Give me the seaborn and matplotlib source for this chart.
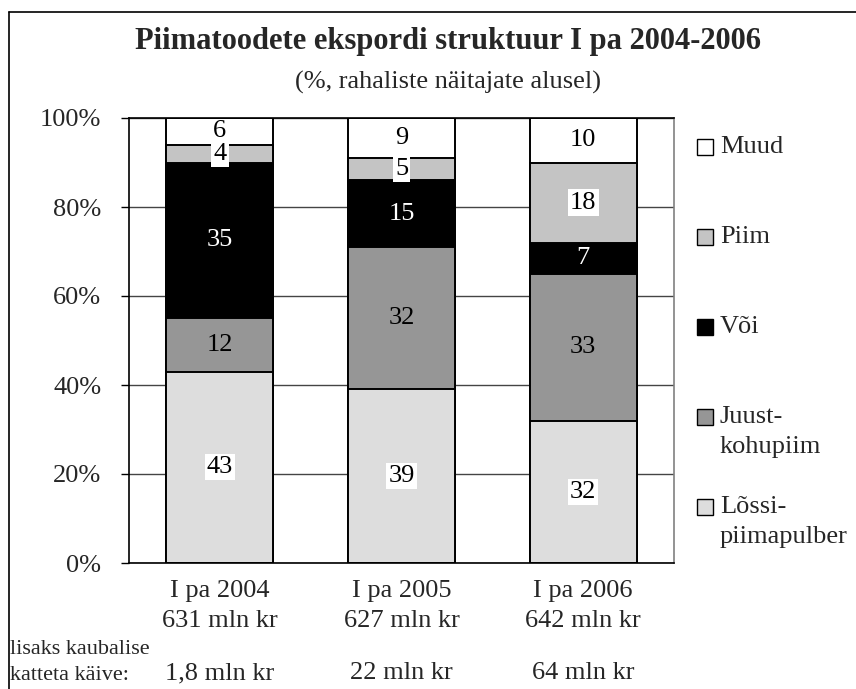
import numpy as np
import seaborn as sns
import matplotlib.pyplot as plt
from matplotlib.patches import Rectangle
from matplotlib.lines import Line2D
from matplotlib.transforms import blended_transform_factory

# data
periods = ['I pa 2004', 'I pa 2005', 'I pa 2006']
totals = ['631 mln kr', '627 mln kr', '642 mln kr']
extra = ['1,8 mln kr', '22 mln kr', '64 mln kr']

groups = ['Lõssi-\npiimapulber', 'Juust-\nkohupiim', 'Või', 'Piim', 'Muud']
lossi = [43, 39, 32]
juust = [12, 32, 33]
voi = [35, 15, 7]
piim = [4, 5, 18]
muud = [6, 9, 10]

values = [lossi, juust, voi, piim, muud]
colors = ['#dddddd', '#969696', '#000000', '#c4c4c4', '#ffffff']
text_colors = ['black', 'black', 'white', 'black', 'black']
boxed = [True, False, False, True, False]

sns.set_style('white')
plt.rcParams['font.family'] = ['Liberation Serif', 'DejaVu Serif']

fig = plt.figure(figsize=(8.56, 6.89), dpi=100)
ax = fig.add_axes([129 / 856, 1 - 563 / 689, 545 / 856, 445 / 689])

# stacked bars: draw cumulative totals from the top down
cum = np.cumsum(values, axis=0)
for k in reversed(range(len(values))):
    sns.barplot(x=periods, y=cum[k], color=colors[k], saturation=1, width=0.59,
                edgecolor='black', linewidth=1.4, ax=ax, zorder=2)

# segment labels
for i in range(len(periods)):
    bottom = 0
    for k in range(len(values)):
        v = values[k][i]
        box = dict(facecolor='white', edgecolor='none', pad=1.5) if boxed[k] else None
        ax.text(i, bottom + v / 2, str(v), ha='center', va='center', fontsize=19,
                color=text_colors[k], bbox=box, zorder=5)
        bottom += v

ax.set_xlim(-0.5, 2.5)
ax.set_ylim(0, 100)
ax.set_yticks([0, 20, 40, 60, 80, 100])
ax.set_yticklabels([f'{t}%' for t in [0, 20, 40, 60, 80, 100]], fontsize=19)
ax.set_xticks(range(len(periods)))
ax.set_xticklabels([f'{p}\n{t}' for p, t in zip(periods, totals)], fontsize=19,
                   linespacing=1.5)
ax.tick_params(axis='y', direction='out', length=6, width=1, color='black', pad=14, left=True)
ax.tick_params(axis='x', length=0, pad=12)
ax.set_xlabel('')
ax.set_ylabel('')
ax.set_axisbelow(True)
ax.yaxis.grid(True, color='#444444', linewidth=1)
for side in ['left', 'top', 'bottom']:
    ax.spines[side].set_color('black')
    ax.spines[side].set_linewidth(1.2)
ax.spines['right'].set_color('#808080')
ax.spines['right'].set_linewidth(1.2)

# extra turnover row
trans = blended_transform_factory(ax.transData, fig.transFigure)
for i, e in enumerate(extra):
    ax.text(i, 1 - 673 / 689, e, transform=trans, ha='center', va='center', fontsize=19)
fig.text(10 / 856, 1 - 649 / 689, 'lisaks kaubalise', ha='left', va='center', fontsize=16)
fig.text(10 / 856, 1 - 675 / 689, 'katteta käive:', ha='left', va='center', fontsize=16)

# titles
fig.text(0.523, 1 - 41 / 689, 'Piimatoodete ekspordi struktuur I pa 2004-2006',
         ha='center', va='center', fontsize=22, fontweight='bold')
fig.text(0.523, 1 - 82 / 689, '(%, rahaliste näitajate alusel)',
         ha='center', va='center', fontsize=19)

# legend, top entry first
for j, k in enumerate(reversed(range(len(groups)))):
    y = 147 + 90 * j
    fig.patches.append(Rectangle((697 / 856, 1 - (y + 8) / 689), 16 / 856, 16 / 689,
                                 facecolor=colors[k], edgecolor='black', linewidth=1,
                                 transform=fig.transFigure, figure=fig))
    for n, line in enumerate(groups[k].split('\n')):
        fig.text(720 / 856, 1 - (y + 30 * n) / 689, line, ha='left', va='center', fontsize=19)

# outer frame (left and top edges visible)
fig.add_artist(Line2D([9 / 856, 9 / 856], [0, 1 - 12 / 689], color='black', linewidth=1.2))
fig.add_artist(Line2D([9 / 856, 1], [1 - 12 / 689, 1 - 12 / 689], color='black', linewidth=1.2))

fig.savefig('out.png', dpi=100)
